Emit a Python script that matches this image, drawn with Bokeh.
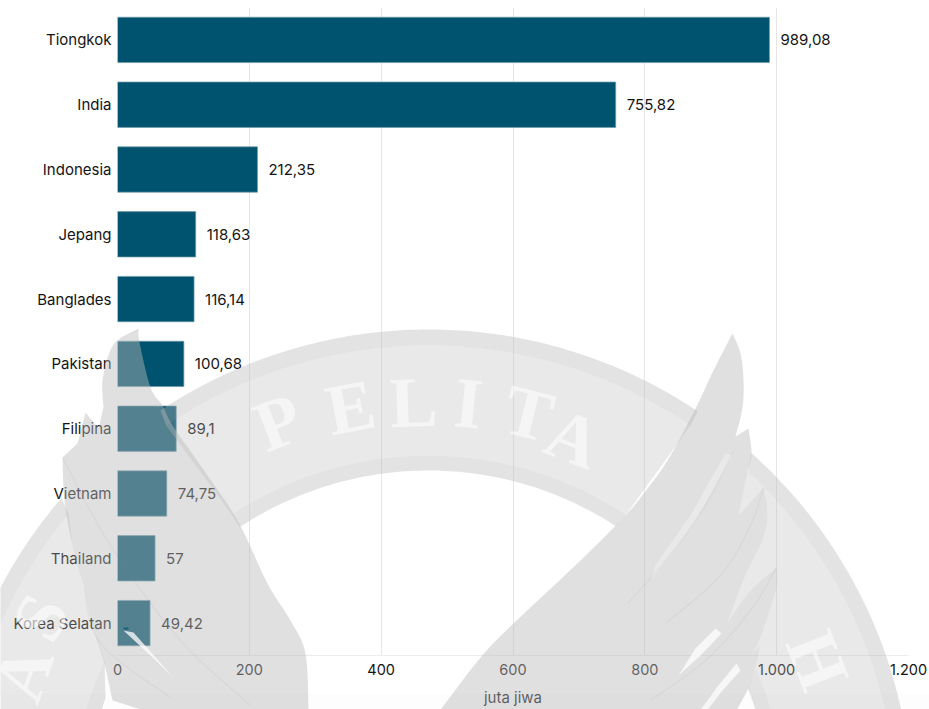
import math
from bokeh.embed import file_html
from bokeh.layouts import column
from bokeh.resources import INLINE
from bokeh.models import ColumnDataSource, FixedTicker
from bokeh.plotting import figure
from bokeh.core.properties import value

# Population figures, in millions
countries = ["Tiongkok", "India", "Indonesia", "Jepang", "Banglades", "Pakistan",
             "Filipina", "Vietnam", "Thailand", "Korea Selatan"]
population = [989.08, 755.82, 212.35, 118.63, 116.14, 100.68, 89.1, 74.75, 57, 49.42]
tick_values = [0, 200, 400, 600, 800, 1000, 1200]
tick_labels = ["0", "200", "400", "600", "800", "1.000", "1.200"]
axis_title = "juta jiwa"

FONT = "Inter"
BAR = "#00536e"
INK = "#141414"

labels = [str(v).replace(".", ",") for v in population]
source = ColumnDataSource(dict(country=countries, pop=population, label=labels))

p = figure(width=929, height=709, x_range=(0, 1200), y_range=list(reversed(countries)),
           output_backend="svg", toolbar_location=None,
           min_border_left=117, min_border_right=21, min_border_top=7, min_border_bottom=53,
           outline_line_color=None, frame_align=False)

p.hbar(y="country", right="pop", left=0, height=0.7, source=source,
       fill_color=BAR, line_color="#6f9aab", line_alpha=0.7, line_width=1)
p.text(x="pop", y="country", text="label", source=source, x_offset=11,
       text_baseline="middle", text_align="left", text_color=INK,
       text_font=value(FONT), text_font_size="15px")

p.xgrid.ticker = FixedTicker(ticks=tick_values)
p.xgrid.grid_line_color = "#e6e6e6"
p.ygrid.grid_line_color = None

xax = p.xaxis[0]
xax.ticker = FixedTicker(ticks=tick_values)
xax.major_label_overrides = dict(zip(tick_values, tick_labels))
xax.axis_line_color = "#ececec"
xax.major_tick_line_color = None
xax.minor_tick_line_color = None
xax.major_label_text_font = FONT
xax.major_label_text_font_size = "14.5px"
xax.major_label_text_color = INK
xax.major_label_standoff = 2
xax.axis_label = axis_title
xax.axis_label_text_font = FONT
xax.axis_label_text_font_size = "15px"
xax.axis_label_text_font_style = "normal"
xax.axis_label_text_color = INK
xax.axis_label_standoff = 10
xax.axis_label_text_line_height = 0.9

yax = p.yaxis[0]
yax.axis_line_color = None
yax.major_tick_line_color = None
yax.minor_tick_line_color = None
yax.major_label_text_font = FONT
yax.major_label_text_font_size = "15px"
yax.major_label_text_color = INK
yax.major_label_standoff = 0

# Crest stamped over the chart, on a transparent sheet measured in page pixels
stamp_sheet = figure(width=929, height=709, x_range=(0, 929), y_range=(709, 0),
                     output_backend="svg", toolbar_location=None,
                     x_axis_location=None, y_axis_location=None,
                     min_border=0, outline_line_color=None,
                     background_fill_alpha=0, border_fill_alpha=0,
                     margin=(-709, 0, 0, 0), frame_align=False)
stamp_sheet.xgrid.visible = False
stamp_sheet.ygrid.visible = False

CX, CY = 428, 813
R_OUT, R_BAND_OUT, R_BAND_IN, R_IN = 484, 468, 358, 343
GREY = "#bababa"
A_WING, A_STRIPE, A_BAND = 0.45, 0.40, 0.32
END = 0.75
START = -math.pi - 0.75


def angle(pt):
    t = math.atan2(pt[1] - CY, pt[0] - CX)
    return t - 2 * math.pi if t > math.pi / 2 else t


def arc(r, a0, a1, n=90):
    return [(CX + r * math.cos(a0 + (a1 - a0) * i / n), CY + r * math.sin(a0 + (a1 - a0) * i / n))
            for i in range(n + 1)]


def curve(pts, n=8):
    """Catmull-Rom line through the given points."""
    out = []
    for i in range(len(pts) - 1):
        p0 = pts[max(i - 1, 0)]
        p1, p2 = pts[i], pts[i + 1]
        p3 = pts[min(i + 2, len(pts) - 1)]
        for k in range(n):
            s = k / n
            out.append(tuple(
                0.5 * (2 * p1[d] + (p2[d] - p0[d]) * s
                       + (2 * p0[d] - 5 * p1[d] + 4 * p2[d] - p3[d]) * s ** 2
                       + (3 * p1[d] - p0[d] - 3 * p2[d] + p3[d]) * s ** 3)
                for d in (0, 1)))
    out.append(pts[-1])
    return out


def stamp(pts, color=GREY, alpha=A_WING):
    stamp_sheet.patch([q[0] for q in pts], [q[1] for q in pts],
                      fill_color=color, fill_alpha=alpha, line_color=None)


def sector(r0, r1, a0_in, a1_in, a0_out, a1_out, alpha):
    stamp(arc(r1, a0_out, a1_out) + arc(r0, a1_in, a0_in), alpha=alpha)


left_wing = (
    curve([(138, 328), (139, 342), (150, 387), (162, 405), (172, 425), (200, 465), (237, 520),
           (267, 583), (290, 620), (305, 653), (308, 712)])
    + [(150, 712)]
    + curve([(112, 700), (103, 660), (92, 625), (84, 587)])
    + curve([(84, 587), (72, 545), (64, 500), (62, 457)])
    + [(77, 443), (85, 412), (98, 428)]
    + curve([(103, 407), (102, 380), (109, 352), (118, 339), (138, 328)])
)
right_edge = (
    curve([(747, 472), (738, 515)])
    + [(763, 487)]
    + curve([(763, 487), (767, 510), (763, 537), (745, 575), (727, 622)])
    + curve([(727, 622), (750, 590), (776, 567)])
    + curve([(776, 567), (776, 587), (760, 637), (752, 652)])
    + [(760, 645), (755, 668)]
)
right_wing = (
    curve([(732, 333), (740, 353), (743, 380), (742, 407), (735, 436)])
    + curve([(748, 428), (751, 453), (747, 472)])
    + right_edge
    + [(748, 688), (735, 712)]
    + curve([(438, 712), (480, 657), (513, 623), (580, 560), (623, 517), (640, 497), (667, 460),
             (695, 408), (713, 370), (732, 333)])
)

stamp(left_wing)
stamp(right_wing)

# Ring: left part, crown between the wings, right part
a = angle
sector(R_BAND_OUT, R_OUT, START, a((66, 512)), START, a((64, 500)), A_STRIPE)
sector(R_IN, R_BAND_IN, START, a((112, 700)), START, a((103, 660)), A_STRIPE)
stamp(arc(R_BAND_OUT, START, a((66, 512))) + [(72, 545), (84, 587), (92, 625)]
      + arc(R_BAND_IN, a((103, 660)), START), alpha=A_BAND)

sector(R_BAND_OUT, R_OUT, a((165, 424)), a((690, 425)), a((160, 410)), a((698, 410)), A_STRIPE)
sector(R_BAND_IN, R_BAND_OUT, a((230, 512)), a((625, 515)), a((165, 424)), a((690, 425)), A_BAND)
sector(R_IN, R_BAND_IN, a((238, 525)), a((617, 523)), a((230, 512)), a((625, 515)), A_STRIPE)

sector(R_BAND_OUT, R_OUT, a((747, 472)), END, a((750, 453)), END, A_STRIPE)
stamp(arc(R_BAND_OUT, a((747, 472)), END) + arc(R_BAND_IN, END, a((755, 668))) + right_edge[::-1],
      alpha=A_BAND)
sector(R_IN, R_BAND_IN, a((748, 688)), END, a((755, 668)), END, A_STRIPE)

# Slits between the feathers
for pts, alpha in [
    ([(725, 453), (732, 455), (695, 520), (675, 548), (662, 565), (650, 580), (655, 565), (672, 540), (690, 515)], 0.3),
    ([(715, 628), (721, 633), (700, 655), (678, 675), (695, 648)], 0.75),
    ([(736, 663), (740, 670), (722, 690), (705, 712), (698, 712), (718, 685)], 0.75),
    ([(123, 630), (133, 632), (172, 676), (150, 655)], 0.75),
]:
    stamp(pts, color="#ffffff", alpha=alpha)
stamp([(123, 627), (128, 627), (128, 629), (123, 629)], color=BAR, alpha=0.7)

# Faint feather outlines
for pts in [
    [(84, 587), (100, 643), (170, 697)],
    [(62, 457), (110, 545), (180, 640), (250, 705)],
    [(627, 603), (665, 560), (705, 505), (733, 450)],
    [(665, 623), (720, 575), (750, 525), (763, 487)],
    [(650, 700), (705, 660), (750, 610), (776, 567)],
]:
    line = curve(pts)
    stamp_sheet.line([q[0] for q in line], [q[1] for q in line],
                     line_color="#8f8f8f", line_alpha=0.08, line_width=1.5)

# Lettering on the ring
crest_letters = ["P", "E", "L", "I", "T", "A", "H", "S", "A"]
crest_x = [278, 350, 413, 468, 528, 573, 817, 40, 23]
crest_y = [422, 407, 402, 403, 413, 438, 660, 617, 673]
crest_rot = [math.atan2(CX - x, CY - y) for x, y in zip(crest_x, crest_y)]
stamp_sheet.text(crest_x, crest_y, text=crest_letters, angle=crest_rot,
                 text_align="center", text_baseline="middle",
                 text_font=value("Liberation Serif"), text_font_size="72px",
                 text_font_style="bold", text_color="#ffffff", text_alpha=0.55)

# Soft shading along the lower edge of the page
for y0 in range(693, 709, 4):
    stamp([(0, y0), (929, y0), (929, y0 + 4), (0, y0 + 4)], color="#000000", alpha=0.006)

layout = column(p, stamp_sheet, spacing=0)
open("out.html", "w").write(file_html(layout, INLINE))
